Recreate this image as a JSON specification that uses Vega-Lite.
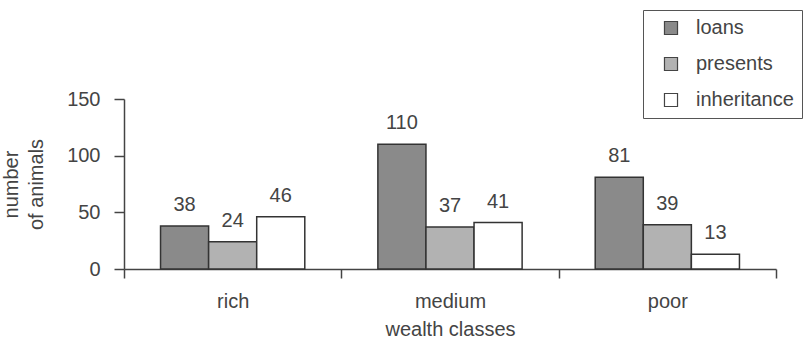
{
  "$schema": "https://vega.github.io/schema/vega-lite/v6.json",
  "width": 652,
  "height": 170,
  "autosize": {"type": "none"},
  "padding": {"left": 124, "top": 99, "right": 27, "bottom": 72},
  "background": "white",
  "config": {
    "font": "Liberation Sans",
    "view": {"stroke": null},
    "axis": {"domainColor": "#444", "tickColor": "#444", "labelColor": "#444", "titleColor": "#444", "labelFontSize": 20, "titleFontSize": 20, "titleFontWeight": "normal", "domainWidth": 1.5, "tickWidth": 1.5, "grid": false}
  },
  "data": {
    "values": [
      {"class": "rich", "type": "loans", "value": 38},
      {"class": "rich", "type": "presents", "value": 24},
      {"class": "rich", "type": "inheritance", "value": 46},
      {"class": "medium", "type": "loans", "value": 110},
      {"class": "medium", "type": "presents", "value": 37},
      {"class": "medium", "type": "inheritance", "value": 41},
      {"class": "poor", "type": "loans", "value": 81},
      {"class": "poor", "type": "presents", "value": 39},
      {"class": "poor", "type": "inheritance", "value": 13}
    ]
  },
  "encoding": {
    "x": {
      "field": "class", "type": "nominal", "sort": ["rich", "medium", "poor"],
      "scale": {"paddingInner": 0, "paddingOuter": 0},
      "axis": {"title": "wealth classes", "labelAngle": 0, "tickBand": "extent", "tickSize": 9, "labelPadding": 13, "titlePadding": 8}
    },
    "xOffset": {
      "field": "type", "type": "nominal", "sort": ["loans", "presents", "inheritance"],
      "scale": {"paddingInner": 0, "paddingOuter": 0.76}
    },
    "y": {
      "field": "value", "type": "quantitative",
      "scale": {"domain": [0, 150], "nice": false},
      "axis": {"title": ["number", "of animals"], "values": [0, 50, 100, 150], "tickSize": 10, "labelPadding": 14, "titlePadding": 20, "titleLineHeight": 25}
    }
  },
  "layer": [
    {
      "mark": {"type": "bar", "stroke": "#333", "strokeWidth": 1.5},
      "encoding": {
        "fill": {
          "field": "type", "type": "nominal",
          "scale": {"domain": ["loans", "presents", "inheritance"], "range": ["#8a8a8a", "#b2b2b2", "#ffffff"]},
          "legend": {
            "title": null, "orient": "none", "legendX": 519, "legendY": -89,
            "strokeColor": "#555", "padding": 8, "symbolOffset": 10, "labelOffset": 15,
            "symbolType": "square", "symbolSize": 170, "symbolStrokeColor": "#444", "symbolStrokeWidth": 1.2,
            "labelFontSize": 20, "labelColor": "#444", "rowPadding": 16
          }
        }
      }
    },
    {
      "mark": {"type": "text", "baseline": "alphabetic", "dy": -15, "fontSize": 20, "fill": "#444"},
      "encoding": {"text": {"field": "value", "type": "quantitative"}}
    }
  ]
}
